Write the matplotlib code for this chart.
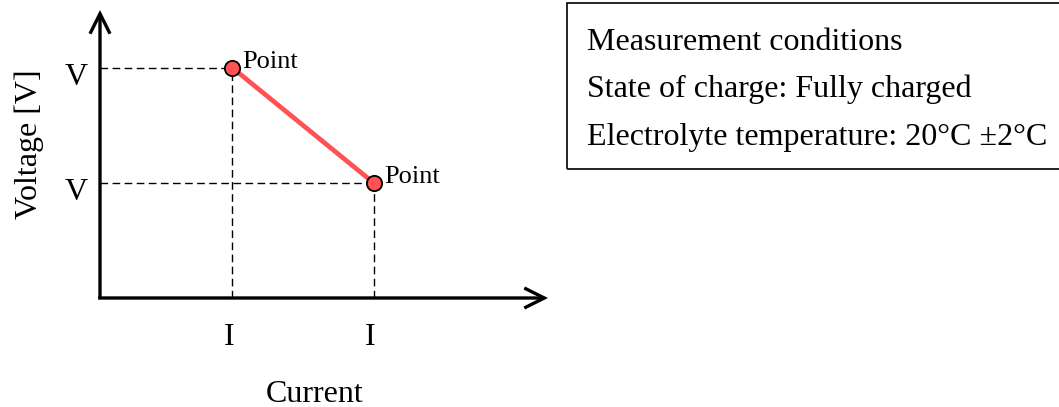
import matplotlib
matplotlib.use("Agg")
import matplotlib.pyplot as plt
from matplotlib.patches import Rectangle
from matplotlib.transforms import ScaledTranslation

# ---- data ----
current = [1.0, 2.07]
voltage = [2.0, 1.0]
point_labels = ["Point", "Point"]
x_tick_labels = ["I", "I"]
y_tick_labels = ["V", "V"]
x_label = "Current"
y_label = "Voltage [V]"
box_lines = ["Measurement conditions",
             "State of charge: Fully charged",
             "Electrolyte temperature: 20°C ±2°C"]

plt.rcParams['font.family'] = ['Liberation Serif', 'DejaVu Serif']

W, H = 1059, 407
fig = plt.figure(figsize=(W / 100, H / 100), dpi=100)

# axes placed in pixel geometry
ax_l, ax_b, ax_r, ax_t = 100, 298, 548, 10
ax = fig.add_axes([ax_l / W, 1 - ax_b / H, (ax_r - ax_l) / W, (ax_b - ax_t) / H])
ax.set_xlim(0, 3.39)
ax.set_ylim(0, 2.5)
for s in ax.spines.values():
    s.set_visible(False)
ax.patch.set_alpha(0)

# axis arrows
arrow_kw = dict(arrowstyle='->,head_length=0.72,head_width=0.36', lw=2.4,
                color='black', shrinkA=0, shrinkB=0, mutation_scale=20,
                joinstyle='miter', capstyle='butt')
ax.annotate('', xy=(1, 0), xytext=(-0.004, 0), xycoords='axes fraction',
            arrowprops=arrow_kw, annotation_clip=False)
ax.annotate('', xy=(0, 1), xytext=(0, -0.004), xycoords='axes fraction',
            arrowprops=arrow_kw, annotation_clip=False)

# dashed guide lines
for x, y in zip(current, voltage):
    ax.plot([0, x], [y, y], color='black', lw=1.0, linestyle=(0, (5.5, 3.2)), zorder=1)
    ax.plot([x, x], [0, y], color='black', lw=1.0, linestyle=(0, (5.5, 3.2)), zorder=1)

# red line with markers
ax.plot(current, voltage, color='#FF5252', lw=3.4, zorder=3, solid_capstyle='butt')
ax.plot(current, voltage, linestyle='none', marker='o', markersize=11,
        markerfacecolor='#FF5252', markeredgecolor='black', markeredgewidth=1.3, zorder=4)

for x, y, lab in zip(current, voltage, point_labels):
    ax.annotate(lab, xy=(x, y), xytext=(7.5, 0), textcoords='offset points',
                va='baseline', ha='left', fontsize=19)

# ticks
ax.set_xticks(current, x_tick_labels)
ax.set_yticks(voltage, y_tick_labels)
ax.tick_params(axis='both', length=0, labelsize=23)
ax.tick_params(axis='x', pad=18)
ax.tick_params(axis='y', pad=9)
for lab in ax.get_yticklabels():
    lab.set_transform(lab.get_transform() + ScaledTranslation(0, -6 / 100, fig.dpi_scale_trans))
for lab in ax.get_xticklabels():
    lab.set_transform(lab.get_transform() + ScaledTranslation(-3 / 100, 0, fig.dpi_scale_trans))

ax.set_xlabel(x_label, fontsize=23)
ax.xaxis.set_label_coords((315 - ax_l) / (ax_r - ax_l), (ax_b - 380) / (ax_b - ax_t))
ax.set_ylabel(y_label, fontsize=23)
ax.yaxis.set_label_coords((44 - ax_l) / (ax_r - ax_l), (ax_b - 144) / (ax_b - ax_t))

# measurement conditions box
fig.patches.append(Rectangle((567 / W, 1 - 169 / H), (1065 - 567) / W, 166 / H,
                             transform=fig.transFigure, fill=False,
                             edgecolor='black', lw=1.2))
for i, line in enumerate(box_lines):
    fig.text(587 / W, 1 - (50 + 47.5 * i) / H, line, fontsize=23,
             ha='left', va='baseline')

fig.savefig('out.png', dpi=100)
